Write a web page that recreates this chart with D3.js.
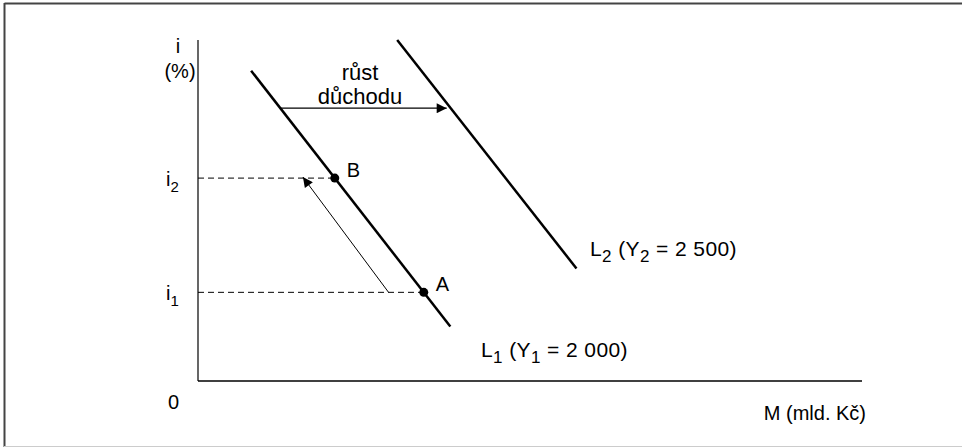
<!DOCTYPE html>
<html><head><meta charset="utf-8">
<script src="https://cdn.jsdelivr.net/npm/d3@7"></script>
<style>body{margin:0;background:#fff}svg{display:block}text{font-family:"Liberation Sans",Arial,sans-serif;fill:#000}</style>
</head><body><svg id="c" width="962" height="448"></svg>
<script>
// Abstract domain: M 0..100, i 0..100
const curveL1 = [{m:8, i:91}, {m:38, i:16}];
const curveL2 = [{m:30, i:100}, {m:57, i:33}];
const pointA = {m:34, i:26, label:"A"};
const pointB = {m:20, i:59.5, label:"B"};
const yTickLabels = [{i:59.5, base:"i", sub:"2"}, {i:26, base:"i", sub:"1"}];
const shiftArrow = {i1:80, from:"L1", to:"L2"};
const labelsLines = ["růst","důchodu"];

const FS = 20, SUB = 15;
const svg = d3.select("#c");
const x0=198, y0=381;
const x = d3.scaleLinear().domain([0,100]).range([x0, 862]);
const y = d3.scaleLinear().domain([0,100]).range([y0, 40]);

// frame
svg.append("line").attr("x1",4.5).attr("x2",962).attr("y1",3.5).attr("y2",3.5).attr("stroke","#444").attr("stroke-width",2);
svg.append("line").attr("x1",4.5).attr("x2",4.5).attr("y1",3).attr("y2",447).attr("stroke","#444").attr("stroke-width",2);
svg.append("line").attr("x1",4).attr("x2",962).attr("y1",446.5).attr("y2",446.5).attr("stroke","#ccc").attr("stroke-width",1);

const defs = svg.append("defs");
defs.append("marker").attr("id","ah").attr("viewBox","0 0 10 10").attr("refX",10).attr("refY",5)
  .attr("markerWidth",14).attr("markerHeight",10).attr("markerUnits","userSpaceOnUse").attr("orient","auto")
  .append("path").attr("d","M0,0L10,5L0,10Z").attr("fill","#000");

// axes
svg.append("line").attr("x1",x(0)).attr("x2",x(0)).attr("y1",y(100)).attr("y2",y(0)).attr("stroke","#000").attr("stroke-width",1.2);
svg.append("line").attr("x1",x(0)).attr("x2",x(100)).attr("y1",y(0)).attr("y2",y(0)).attr("stroke","#000").attr("stroke-width",1.5);

const line = d3.line().x(d=>x(d.m)).y(d=>y(d.i));
svg.append("path").attr("d",line(curveL1)).attr("stroke","#000").attr("stroke-width",2.5).attr("fill","none");
svg.append("path").attr("d",line(curveL2)).attr("stroke","#000").attr("stroke-width",2.5).attr("fill","none");

function mOn(c, i){ const a=c[0], b=c[1]; return a.m + (i-a.i)*(b.m-a.m)/(b.i-a.i); }

// dashed
[pointB, pointA].forEach(p=>{
  svg.append("line").attr("x1",x(0)).attr("x2",x(mOn(curveL1,p.i))).attr("y1",y(p.i)).attr("y2",y(p.i))
    .attr("stroke","#000").attr("stroke-width",1).attr("stroke-dasharray","6,4");
});
// points
[pointB, pointA].forEach(p=>{
  const px = x(mOn(curveL1,p.i));
  svg.append("circle").attr("cx",px).attr("cy",y(p.i)).attr("r",4.5).attr("fill","#000");
  svg.append("text").attr("x",px+12).attr("y",y(p.i)-1).attr("font-size",FS).text(p.label);
});
// shift arrow
const ya = shiftArrow.i1;
svg.append("line").attr("x1",x(mOn(curveL1,ya))).attr("x2",x(mOn(curveL2,ya))-4).attr("y1",y(ya)).attr("y2",y(ya))
  .attr("stroke","#000").attr("stroke-width",1.3).attr("marker-end","url(#ah)");
const tc = 360;
labelsLines.forEach((t,k)=>svg.append("text").attr("x",tc).attr("y",y(ya)-28+k*24).attr("text-anchor","middle").attr("font-size",FS+2).text(t));
// move arrow A->B
const mA = mOn(curveL1,pointA.i)-5.3, mB = mOn(curveL1,pointB.i)-4.8;
svg.append("line").attr("x1",x(mA)).attr("y1",y(pointA.i)).attr("x2",x(mB)).attr("y2",y(pointB.i)-1)
  .attr("stroke","#000").attr("stroke-width",1).attr("marker-end","url(#ah)");

// y labels
svg.append("text").attr("x",178).attr("y",53).attr("text-anchor","middle").attr("font-size",FS).text("i");
svg.append("text").attr("x",180).attr("y",78).attr("text-anchor","middle").attr("font-size",FS).text("(%)");
yTickLabels.forEach(t=>{
  const tx = svg.append("text").attr("x",166).attr("y",y(t.i)+8).attr("font-size",FS);
  tx.append("tspan").text(t.base);
  tx.append("tspan").attr("dy",6).attr("font-size",SUB).text(t.sub);
});
svg.append("text").attr("x",168).attr("y",409).attr("font-size",FS).text("0");
svg.append("text").attr("x",866).attr("y",420).attr("text-anchor","end").attr("font-size",FS).text("M (mld. Kč)");

function subLabel(xp, yp, L, sub, rest){
  const t = svg.append("text").attr("x",xp).attr("y",yp).attr("font-size",21).attr("letter-spacing",0.4);
  t.append("tspan").text(L);
  t.append("tspan").attr("dy",6).attr("font-size",17).text(sub);
  t.append("tspan").attr("dy",-6).text(" (Y");
  t.append("tspan").attr("dy",6).attr("font-size",17).text(sub);
  t.append("tspan").attr("dy",-6).text(rest);
}
subLabel(481, 357, "L", "1", " = 2 000)");
subLabel(590, 256, "L", "2", " = 2 500)");
</script></body></html>
